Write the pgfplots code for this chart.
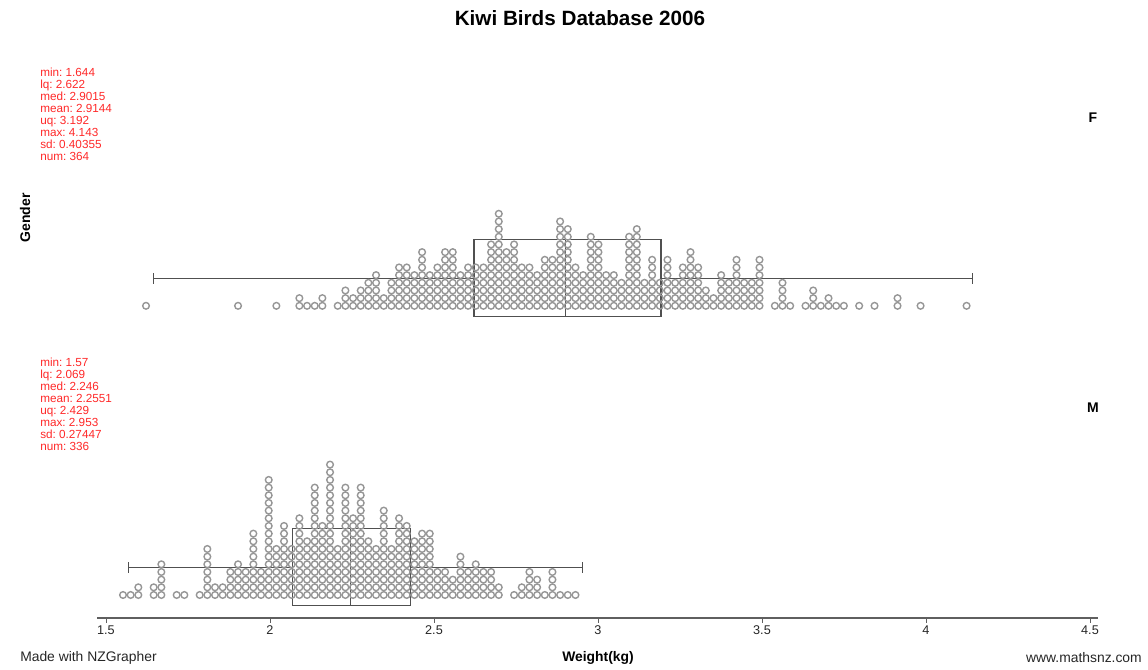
\documentclass[border=0pt]{standalone}
\usepackage{fontspec}
\setmainfont{Liberation Sans}
\usepackage{pgfplots}
\usepackage{pgfplotstable}
\pgfplotsset{compat=1.18}
\definecolor{dotgray}{RGB}{150,150,150}
\definecolor{boxgray}{RGB}{80,80,80}
\definecolor{statred}{RGB}{255,40,40}
\definecolor{axgray}{RGB}{95,95,95}

% Female: column position (kg) and number of stacked dots
\pgfplotstableread{
x n
1.6220 1
1.9026 1
2.0195 1
2.0896 2
2.1130 1
2.1364 1
2.1597 2
2.2065 1
2.2299 3
2.2533 2
2.2766 3
2.3000 4
2.3234 5
2.3468 2
2.3702 4
2.3935 6
2.4169 6
2.4403 5
2.4637 8
2.4871 5
2.5104 6
2.5338 8
2.5572 8
2.5806 5
2.6040 6
2.6273 6
2.6507 6
2.6741 9
2.6975 13
2.7209 8
2.7442 9
2.7676 6
2.7910 6
2.8144 5
2.8378 7
2.8611 7
2.8845 12
2.9079 11
2.9313 6
2.9547 5
2.9780 10
3.0014 9
3.0248 5
3.0482 5
3.0716 4
3.0949 10
3.1183 11
3.1417 4
3.1651 7
3.1885 4
3.2118 7
3.2352 4
3.2586 6
3.2820 8
3.3054 6
3.3287 3
3.3521 2
3.3755 5
3.3989 4
3.4223 7
3.4456 4
3.4690 4
3.4924 7
3.5392 1
3.5625 4
3.5859 1
3.6327 1
3.6561 3
3.6794 1
3.7028 2
3.7262 1
3.7496 1
3.7963 1
3.8431 1
3.9132 2
3.9834 1
4.1237 1
}\Fdata

% Male
\pgfplotstableread{
x n
1.5519 1
1.5752 1
1.5986 2
1.6454 2
1.6688 5
1.7155 1
1.7389 1
1.7857 1
1.8090 7
1.8324 2
1.8558 2
1.8792 4
1.9026 5
1.9259 4
1.9493 9
1.9727 4
1.9961 16
2.0195 7
2.0428 10
2.0662 7
2.0896 11
2.1130 8
2.1364 15
2.1597 10
2.1831 18
2.2065 7
2.2299 15
2.2533 11
2.2766 15
2.3000 8
2.3234 7
2.3468 12
2.3702 7
2.3935 11
2.4169 10
2.4403 8
2.4637 9
2.4871 9
2.5104 4
2.5338 4
2.5572 3
2.5806 6
2.6040 4
2.6273 5
2.6507 4
2.6741 4
2.6975 2
2.7442 1
2.7676 2
2.7910 4
2.8144 3
2.8378 1
2.8611 4
2.8845 1
2.9079 1
2.9313 1
}\Mdata

\begin{document}
\frenchspacing
\begin{tikzpicture}
\useasboundingbox (0pt,0pt) rectangle (861pt,502.5pt);
\begin{axis}[
  at={(72.75pt,39pt)}, anchor=south west,
  x=246pt, y=5.7525pt,
  xmin=1.4726, xmax=4.5244, ymin=-3, ymax=69.75,
  axis x line*=bottom, hide y axis,
  axis line style={draw=axgray, line width=1.4pt, -},
  xtick={1.5,2,2.5,3,3.5,4,4.5},
  xticklabels={1.5,2,2.5,3,3.5,4,4.5},
  tick align=outside,
  major tick length=3.5pt,
  tick style={draw=axgray, line width=0.7pt},
  xticklabel style={font=\fontsize{9.5}{11}\selectfont, text=black!85, inner sep=2pt},
  clip=false,
  every axis plot/.append style={mark size=2.5pt},
]
% Female dots (baseline offset 37.7 rows)
\pgfplotsinvokeforeach{1,...,13}{
  \addplot[only marks, mark=o, draw=dotgray, mark options={line width=1.05pt}]
    table[x=x, y expr={#1-1+37.7}, restrict expr to domain={\thisrow{n}}{#1:100}] {\Fdata};
}
% Male dots
\pgfplotsinvokeforeach{1,...,18}{
  \addplot[only marks, mark=o, draw=dotgray, mark options={line width=1.05pt}]
    table[x=x, y expr={#1-1}, restrict expr to domain={\thisrow{n}}{#1:100}] {\Mdata};
}
% Female box plot
\addplot[boxgray, line width=0.8pt, mark=none] coordinates {(2.622,36.25) (3.192,36.25) (3.192,46.4) (2.622,46.4) (2.622,36.25)};
\addplot[boxgray, line width=0.8pt, mark=none] coordinates {(2.9015,36.25) (2.9015,46.4)};
\addplot[boxgray, line width=0.8pt, mark=none] coordinates {(1.644,41.3) (2.622,41.3)};
\addplot[boxgray, line width=0.8pt, mark=none] coordinates {(3.192,41.3) (4.143,41.3)};
\addplot[boxgray, line width=0.8pt, mark=none] coordinates {(1.644,40.6) (1.644,42.0)};
\addplot[boxgray, line width=0.8pt, mark=none] coordinates {(4.143,40.6) (4.143,42.0)};
% Male box plot
\addplot[boxgray, line width=0.8pt, mark=none] coordinates {(2.069,-1.43) (2.429,-1.43) (2.429,8.7) (2.069,8.7) (2.069,-1.43)};
\addplot[boxgray, line width=0.8pt, mark=none] coordinates {(2.246,-1.43) (2.246,8.7)};
\addplot[boxgray, line width=0.8pt, mark=none] coordinates {(1.57,3.61) (2.069,3.61)};
\addplot[boxgray, line width=0.8pt, mark=none] coordinates {(2.429,3.61) (2.953,3.61)};
\addplot[boxgray, line width=0.8pt, mark=none] coordinates {(1.57,2.91) (1.57,4.31)};
\addplot[boxgray, line width=0.8pt, mark=none] coordinates {(2.953,2.91) (2.953,4.31)};
\end{axis}

\node[font=\bfseries\fontsize{15.5}{18}\selectfont] at (435pt,489pt) {Kiwi Birds Database 2006};

\node[anchor=north west, inner sep=0pt, align=left, text=statred, font=\fontsize{8.8}{9}\selectfont]
  at (30pt,451.9pt) {min: 1.644\\lq: 2.622\\med: 2.9015\\mean: 2.9144\\uq: 3.192\\max: 4.143\\sd: 0.40355\\num: 364};
\node[anchor=north west, inner sep=0pt, align=left, text=statred, font=\fontsize{8.8}{9}\selectfont]
  at (30pt,234.4pt) {min: 1.57\\lq: 2.069\\med: 2.246\\mean: 2.2551\\uq: 2.429\\max: 2.953\\sd: 0.27447\\num: 336};

\node[rotate=90, font=\bfseries\fontsize{10.5}{12}\selectfont] at (18.75pt,339pt) {Gender};
\node[font=\bfseries\fontsize{10.5}{12}\selectfont] at (819.75pt,414pt) {F};
\node[font=\bfseries\fontsize{10.5}{12}\selectfont] at (819.75pt,196.5pt) {M};

\node[anchor=west, inner sep=0pt, font=\fontsize{10.4}{12}\selectfont, text=black!85] at (15pt,9.2pt) {Made with NZGrapher};
\node[font=\bfseries\fontsize{10.4}{12}\selectfont] at (448.5pt,9.2pt) {Weight(kg)};
\node[anchor=east, inner sep=0pt, font=\fontsize{10.4}{12}\selectfont, text=black!85] at (856.5pt,9.2pt) {www.mathsnz.com};
\end{tikzpicture}
\end{document}
